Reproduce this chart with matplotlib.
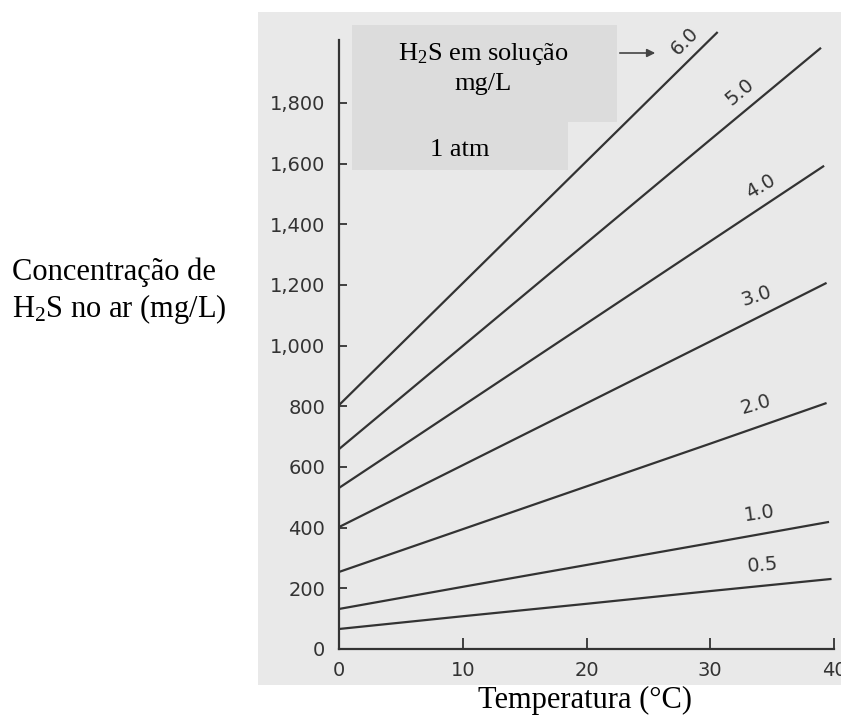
import matplotlib.pyplot as plt
from matplotlib.patches import Rectangle
import numpy as np

plt.rcParams['mathtext.fontset'] = 'custom'
plt.rcParams['mathtext.rm'] = 'Liberation Serif'
plt.rcParams['mathtext.it'] = 'Liberation Serif:italic'

# H2S in air at 1 atm vs temperature, one line per dissolved H2S concentration (mg/L)
temp_05 = [0, 10, 20, 30, 39.8]
h2s_05 = [66, 108, 149, 191, 231]
temp_10 = [0, 10, 20, 30, 39.6]
h2s_10 = [132, 205, 277, 349, 419]
temp_20 = [0, 10, 20, 30, 39.4]
h2s_20 = [254, 395, 536, 677, 811]
temp_30 = [0, 10, 20, 30, 39.4]
h2s_30 = [402, 606, 810, 1014, 1207]
temp_40 = [0, 10, 20, 30, 39.2]
h2s_40 = [531, 802, 1073, 1344, 1593]
temp_50 = [0, 10, 20, 30, 38.95]
h2s_50 = [659, 999, 1339, 1679, 1982]
temp_60 = [0, 10, 20, 30, 30.6]
h2s_60 = [804, 1206, 1608, 2010, 2034]

line_names = ['0.5', '1.0', '2.0', '3.0', '4.0', '5.0', '6.0']
temps = [temp_05, temp_10, temp_20, temp_30, temp_40, temp_50, temp_60]
values = [h2s_05, h2s_10, h2s_20, h2s_30, h2s_40, h2s_50, h2s_60]

y_ticks = [0, 200, 400, 600, 800, 1000, 1200, 1400, 1600, 1800]
y_ticklabels = ['0', '200', '400', '600', '800', '1,000', '1,200', '1,400', '1,600', '1,800']
x_ticks = [0, 10, 20, 30, 40]

# where each curve label sits (temperature) and its tilt
label_T = [34.2, 34.0, 33.7, 33.7, 34.1, 32.4, 27.9]
label_rot = [5, 8, 16, 18, 30, 40, 45]
label_dy = [15, 15, 17, 16, 15, 17, 17]

W, H = 841, 720
def fx(px):
    return px / W
def fy(py):
    return 1 - py / H

INK = '#333333'
fig = plt.figure(figsize=(W / 100, H / 100), dpi=100)

# grey scanned page behind the plot
fig.patches.append(Rectangle((fx(258), fy(685)), fx(841) - fx(258), (685 - 12) / H,
                             transform=fig.transFigure, facecolor='#e9e9e9',
                             edgecolor='none', zorder=-1))

ax = fig.add_axes([fx(339), 71 / H, 495 / W, 637 / H])
ax.set_facecolor('none')
ax.set_xlim(0, 40)
ax.set_ylim(0, 2100)

for T, v in zip(temps, values):
    ax.plot(T, v, color=INK, lw=1.6, clip_on=False, solid_capstyle='butt')

for name, T, v, tl, rot, dy in zip(line_names, temps, values, label_T, label_rot, label_dy):
    ax.annotate(name, xy=(tl, np.interp(tl, T, v)), xytext=(0, dy), textcoords='offset points',
                ha='center', va='center', rotation=rot, fontsize=14,
                family='DejaVu Sans', color=INK)

for s in ['top', 'right']:
    ax.spines[s].set_visible(False)
ax.spines['left'].set_bounds(0, 2008)
ax.spines['bottom'].set_bounds(0, 40)
for s in ['left', 'bottom']:
    ax.spines[s].set_linewidth(1.6)
    ax.spines[s].set_color(INK)

ax.set_yticks(y_ticks)
ax.set_yticklabels(y_ticklabels)
ax.set_xticks(x_ticks)
ax.set_xticklabels([str(t) for t in x_ticks])
ax.tick_params(axis='y', direction='in', length=6, width=1.3, color=INK, pad=10,
               labelsize=14, labelcolor=INK)
ax.tick_params(axis='x', direction='in', length=8, width=1.3, color=INK, pad=9,
               labelsize=14, labelcolor=INK)
for lab in ax.get_xticklabels() + ax.get_yticklabels():
    lab.set_family('DejaVu Sans')

# caption box pasted over the page
for x0, y0, x1, y1 in [(352, 25, 617, 122), (352, 122, 568, 170)]:
    ax.add_patch(Rectangle((fx(x0), fy(y1)), fx(x1) - fx(x0), (y1 - y0) / H,
                           transform=fig.transFigure, facecolor='#dcdcdc',
                           edgecolor='none', zorder=5, clip_on=False))

serif = 'Liberation Serif'
fig.text(fx(483), fy(60), 'H$_2$S em solução', ha='center', va='baseline',
         fontsize=19, family=serif)
fig.text(fx(483), fy(90), 'mg/L', ha='center', va='baseline', fontsize=19, family=serif)
fig.text(fx(460), fy(156), '1 atm', ha='center', va='baseline', fontsize=19, family=serif)
ax.annotate('', xy=(fx(658), fy(53)), xytext=(fx(617), fy(53)),
            xycoords='figure fraction', textcoords='figure fraction',
            arrowprops=dict(arrowstyle='-|>', color='#444444', lw=1.2, mutation_scale=12))

fig.text(fx(12), fy(280), 'Concentração de', ha='left', va='baseline',
         fontsize=22, family=serif)
fig.text(fx(12), fy(317), 'H$_2$S no ar (mg/L)', ha='left', va='baseline',
         fontsize=22, family=serif)
fig.text(fx(585), fy(708), 'Temperatura (°C)', ha='center', va='baseline',
         fontsize=22, family=serif)

fig.savefig('out.png', dpi=100, facecolor='white')
